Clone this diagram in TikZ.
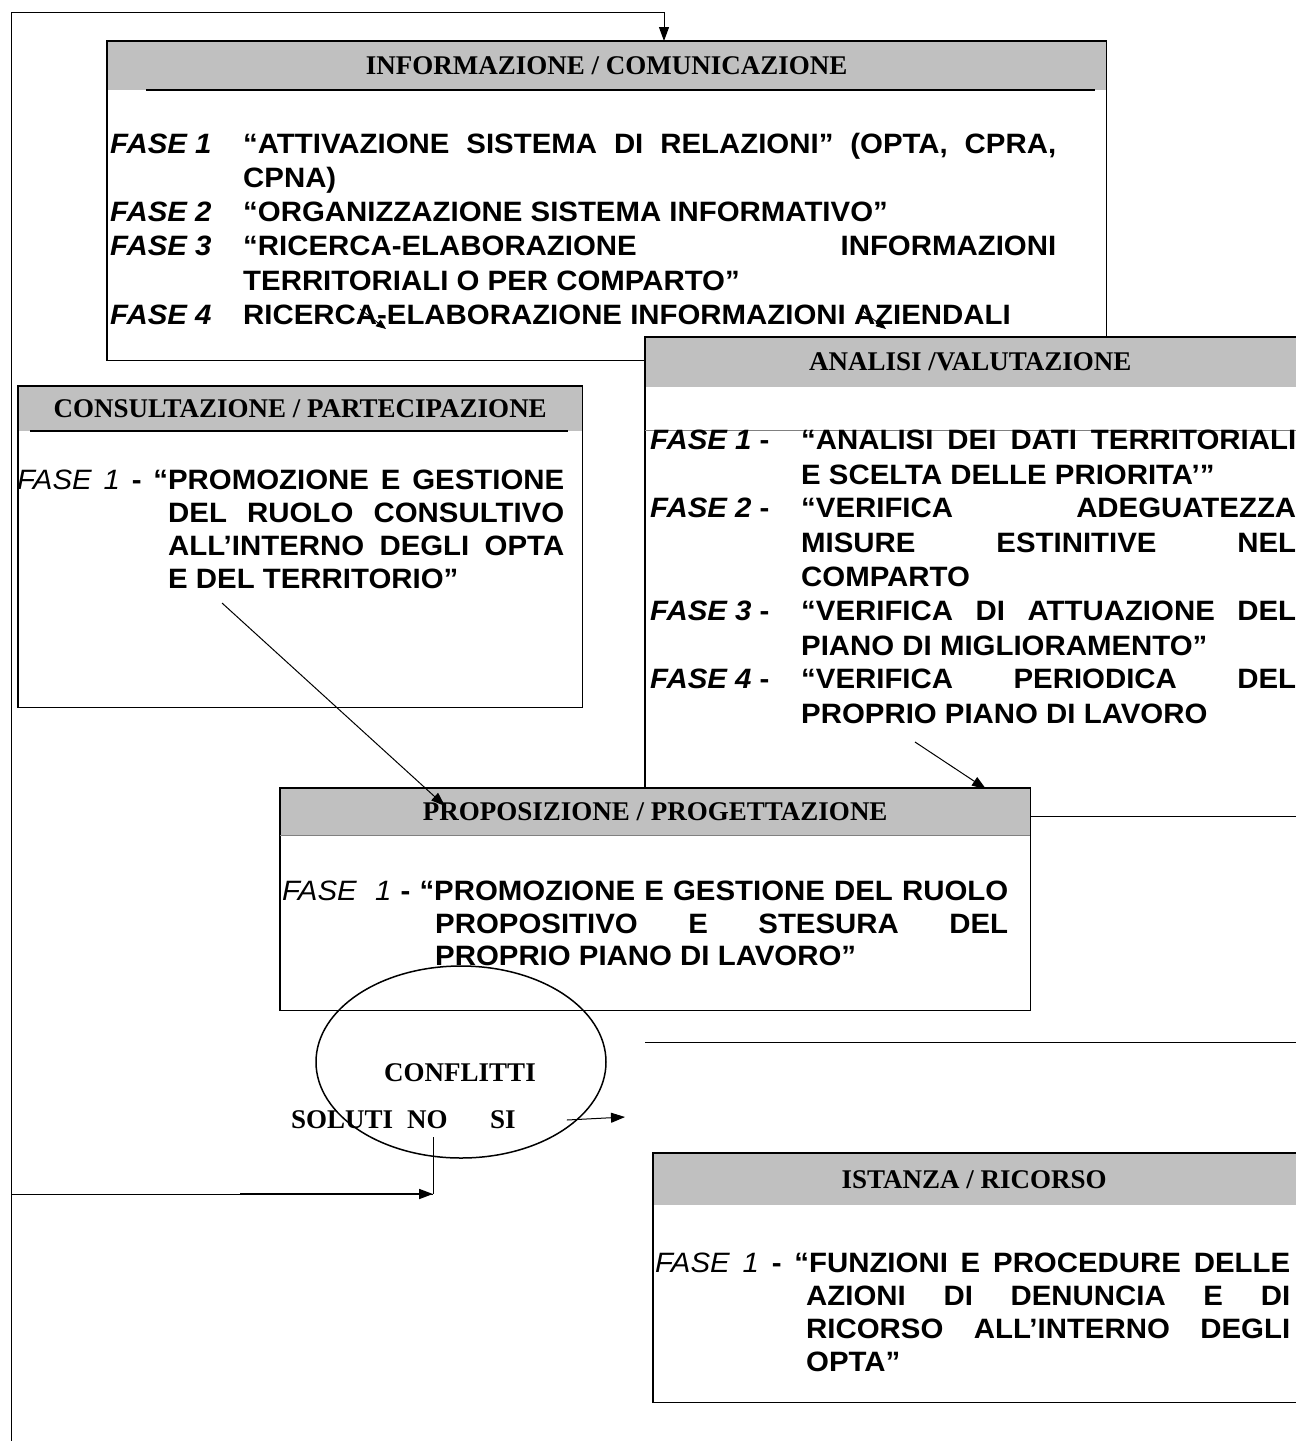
\documentclass[tikz,border=0pt]{standalone}
\usepackage{fontspec}
\setmainfont{Liberation Serif}
\setsansfont[FakeStretch=1.05]{Liberation Sans}
\usetikzlibrary{arrows.meta,shapes.geometric}
\definecolor{bandgray}{RGB}{192,192,192}
\tikzset{
  frame/.style={line width=1.6pt},
  blank/.style={fill=white, anchor=north west, inner sep=0pt},
  band/.style={fill=bandgray, anchor=north west, inner sep=0pt, font=\bfseries\fontsize{27}{29}\selectfont},
  phaseA/.style={anchor=north west, inner sep=0pt, align=justify, font=\sffamily\bfseries\fontsize{28}{34.3}\selectfont},
  phaseB/.style={anchor=north west, inner sep=0pt, align=justify, font=\sffamily\bfseries\fontsize{28}{33}\selectfont},
  word/.style={anchor=west, inner sep=0pt, font=\bfseries\fontsize{27}{29}\selectfont},
  link/.style={line width=1pt, -{Triangle[length=14pt,width=10pt]}},
  tick/.style={line width=0.8pt, -{Triangle[length=10pt,width=8pt]}}
}
\newcommand{\lab}[1]{{\mdseries\itshape #1}}
\newcommand{\hang}[1]{\parindent=0pt\hangindent=#1\hangafter=1 }
\begin{document}
\begin{tikzpicture}[x=1pt,y=-1pt]
\useasboundingbox (0,0) rectangle (1296,1441);

% informazione / comunicazione
\node[blank, minimum width=999pt, minimum height=319pt] (info) at (107,41) {};
\node[band, minimum width=999pt, minimum height=49pt] (infohead) at (info.north west) {INFORMAZIONE / COMUNICAZIONE};
\draw[frame] (info.north west) rectangle (info.south east);
\draw[line width=2pt] (146,90) -- (1095,90);
\node[phaseA, text width=946pt] (info1) at (110,133) {\hang{133pt}\makebox[133pt][l]{\itshape FASE 1}“ATTIVAZIONE SISTEMA DI RELAZIONI” (OPTA, CPRA,\linebreak CPNA)\par};
\node[phaseA, text width=946pt] (info2) at (110,202) {\hang{133pt}\makebox[133pt][l]{\itshape FASE 2}“ORGANIZZAZIONE SISTEMA INFORMATIVO”\par};
\node[phaseA, text width=946pt] (info3) at (110,236) {\hang{133pt}\makebox[133pt][l]{\itshape FASE 3}“RICERCA-ELABORAZIONE INFORMAZIONI\linebreak TERRITORIALI O PER COMPARTO”\par};
\node[phaseA, text width=946pt] (info4) at (110,305) {\hang{133pt}\makebox[133pt][l]{\itshape FASE 4}RICERCA-ELABORAZIONE INFORMAZIONI AZIENDALI\par};

% analisi / valutazione
\node[blank, minimum width=660pt, minimum height=479pt] (anal) at (645,337) {};
\node[band, minimum width=660pt, minimum height=50pt] (analhead) at (anal.north west) {\hspace*{-10pt}ANALISI /VALUTAZIONE};
\draw[frame] (anal.north west) rectangle (anal.south east);
\draw[gray, line width=0.8pt] (645,430) -- (1305,430);
\node[phaseA, text width=646pt] (anal1) at (650,430) {\hang{151pt}\makebox[151pt][l]{\textit{FASE 1} -}“ANALISI DEI DATI TERRITORIALI\linebreak E SCELTA DELLE PRIORITA’”\par};
\node[phaseA, text width=646pt] (anal2) at (650,498) {\hang{151pt}\makebox[151pt][l]{\textit{FASE 2} -}“VERIFICA ADEGUATEZZA\linebreak MISURE ESTINITIVE NEL\linebreak COMPARTO\par};
\node[phaseA, text width=646pt] (anal3) at (650,601) {\hang{151pt}\makebox[151pt][l]{\textit{FASE 3} -}“VERIFICA DI ATTUAZIONE DEL\linebreak PIANO DI MIGLIORAMENTO”\par};
\node[phaseA, text width=646pt] (anal4) at (650,669) {\hang{151pt}\makebox[151pt][l]{\textit{FASE 4} -}“VERIFICA PERIODICA DEL\linebreak PROPRIO PIANO DI LAVORO\par};

% consultazione / partecipazione
\node[blank, minimum width=564pt, minimum height=321pt] (cons) at (18,386) {};
\node[band, minimum width=564pt, minimum height=45pt] (conshead) at (cons.north west) {CONSULTAZIONE / PARTECIPAZIONE};
\draw[frame] (cons.north west) rectangle (cons.south east);
\draw[line width=2pt] (30,431) -- (568,431);
\node[phaseB, text width=547pt] (cons1) at (17,470) {\hang{151pt}\lab{FASE 1} - “PROMOZIONE E GESTIONE\linebreak DEL RUOLO CONSULTIVO\linebreak ALL’INTERNO DEGLI OPTA\linebreak E DEL TERRITORIO”\par};

% proposizione / progettazione
\node[blank, minimum width=750pt, minimum height=222pt] (prop) at (280,788) {};
\node[band, minimum width=750pt, minimum height=47pt] (prophead) at (prop.north west) {PROPOSIZIONE / PROGETTAZIONE};
\draw[frame] (prop.north west) rectangle (prop.south east);
\draw[gray, line width=1.5pt] (prophead.south west) -- (prophead.south east);
\node[phaseB, text width=726pt, font=\sffamily\bfseries\fontsize{28}{32.5}\selectfont] (prop1) at (282,881) {\hang{153pt}\lab{FASE\ \ 1} - “PROMOZIONE E GESTIONE DEL RUOLO\linebreak PROPOSITIVO E STESURA DEL\linebreak PROPRIO PIANO DI LAVORO”\par};

% istanza / ricorso
\node[blank, minimum width=652pt, minimum height=249pt] (ist) at (653,1153) {};
\node[band, minimum width=652pt, minimum height=52pt] (isthead) at (ist.north west) {\hspace*{-10pt}ISTANZA / RICORSO};
\draw[frame] (ist.north west) rectangle (ist.south east);
\node[phaseB, text width=635pt] (ist1) at (655,1253) {\hang{151pt}\lab{FASE 1} - “FUNZIONI E PROCEDURE DELLE\linebreak AZIONI DI DENUNCIA E DI\linebreak RICORSO ALL’INTERNO DEGLI\linebreak OPTA”\par};

% conflitti
\node[draw, ellipse, line width=1.5pt, minimum width=290pt, minimum height=192pt] (confl) at (461,1062) {};
\node[word, anchor=center] (conftxt) at (460,1073) {CONFLITTI};
\node[word] (soluti) at (291,1120) {SOLUTI};
\node[word] (no) at (407,1120) {NO};
\node[word] (si) at (490,1120) {SI};
\draw[line width=1pt] (645,1042) -- (1305,1042);

% collegamenti
\coordinate (loopbl) at (11,1441);
\coordinate (looptl) at (11,12);
\coordinate (infoin) at (664,41);
\coordinate (nofoot) at (433,1194);
\coordinate (sitip) at (625,1117);
\draw[link] (loopbl) -- (looptl) -| (infoin);
\draw[line width=1pt] (433,1137) -- (nofoot);
\draw[line width=1pt] (11,1194) -- (nofoot);
\draw[link, line width=1.8pt] (240,1194) -- (nofoot);
\draw[link] ([xshift=51pt]si.east) -- (sitip);
\draw[link] (222,603) -- (445,806);
\draw[link] (915,742) -- (986,789);
\draw[tick] (360,309) -- (386,329);
\draw[tick] (860,309) -- (886,329);
\end{tikzpicture}
\end{document}
